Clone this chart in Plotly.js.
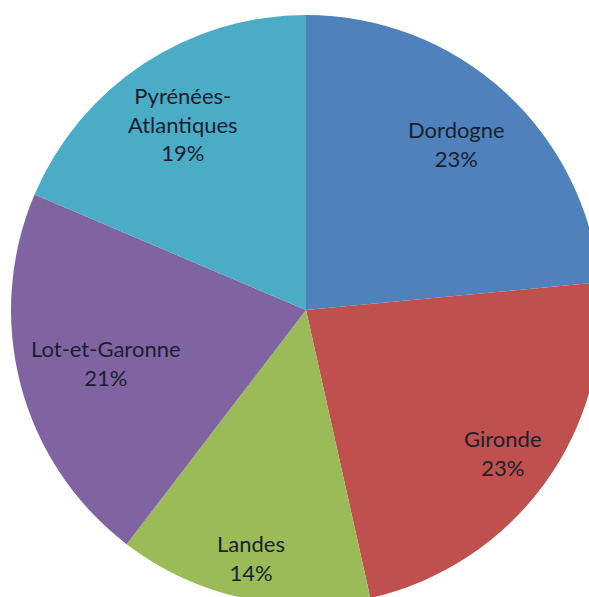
<!DOCTYPE html>
<html>
<head>
<meta charset="utf-8">
<script src="https://cdn.plot.ly/plotly-3.0.1.min.js"></script>
<style>
html, body { margin: 0; padding: 0; overflow: hidden; background: #fff; }
#chart { width: 612px; height: 620px; }
</style>
</head>
<body>
<div id="chart"></div>
<script>
// ---- data ----
const departements = ['Dordogne', 'Gironde', 'Landes', 'Lot-et-Garonne', 'Pyrénées-<br>Atlantiques'];
const shares = [23.5, 23.0, 13.9, 21.0, 18.6];
const shareLabels = ['23%', '23%', '14%', '21%', '19%'];

// ---- style / layout settings ----
const sliceColors = ['#4F81BD', '#C0504D', '#9BBB59', '#8064A2', '#4BACC6'];
const labelRadius = [0.76, 0.825, 0.86, 0.70, 0.755]; // fraction of pie radius for each label

const W = 612, H = 620;
const padY = 15;
const dom = { x: [0, 1], y: [padY / H, 1 - padY / H] };
const R = (H - 2 * padY) / 2;
const cx = W / 2, cy = H / 2;

const pieTrace = {
  type: 'pie',
  labels: departements,
  values: shares,
  sort: false,
  direction: 'clockwise',
  rotation: 0,
  marker: { colors: sliceColors, line: { width: 0 } },
  textinfo: 'none',
  hoverinfo: 'skip',
  domain: dom,
  showlegend: false
};

// label positions derived from the data (slice bisectors)
const total = shares.reduce((a, b) => a + b, 0);
let cum = 0;
const annotations = shares.map((v, i) => {
  const mid = (cum + v / 2) / total;
  cum += v;
  const theta = mid * 2 * Math.PI;
  const px = cx + labelRadius[i] * R * Math.sin(theta);
  const py = cy - labelRadius[i] * R * Math.cos(theta);
  return {
    xref: 'paper', yref: 'paper',
    x: px / W, y: 1 - py / H,
    xanchor: 'center', yanchor: 'middle',
    text: departements[i] + '<br>' + shareLabels[i],
    showarrow: false,
    align: 'center',
    font: { family: 'Lato, sans-serif', size: 22, color: '#1a1f2e' }
  };
});

Plotly.newPlot('chart', [pieTrace], {
  width: W, height: H,
  margin: { l: 0, r: 0, t: 0, b: 0 },
  paper_bgcolor: '#fff',
  showlegend: false,
  annotations: annotations
}, { staticPlot: true });
</script>
</body>
</html>
